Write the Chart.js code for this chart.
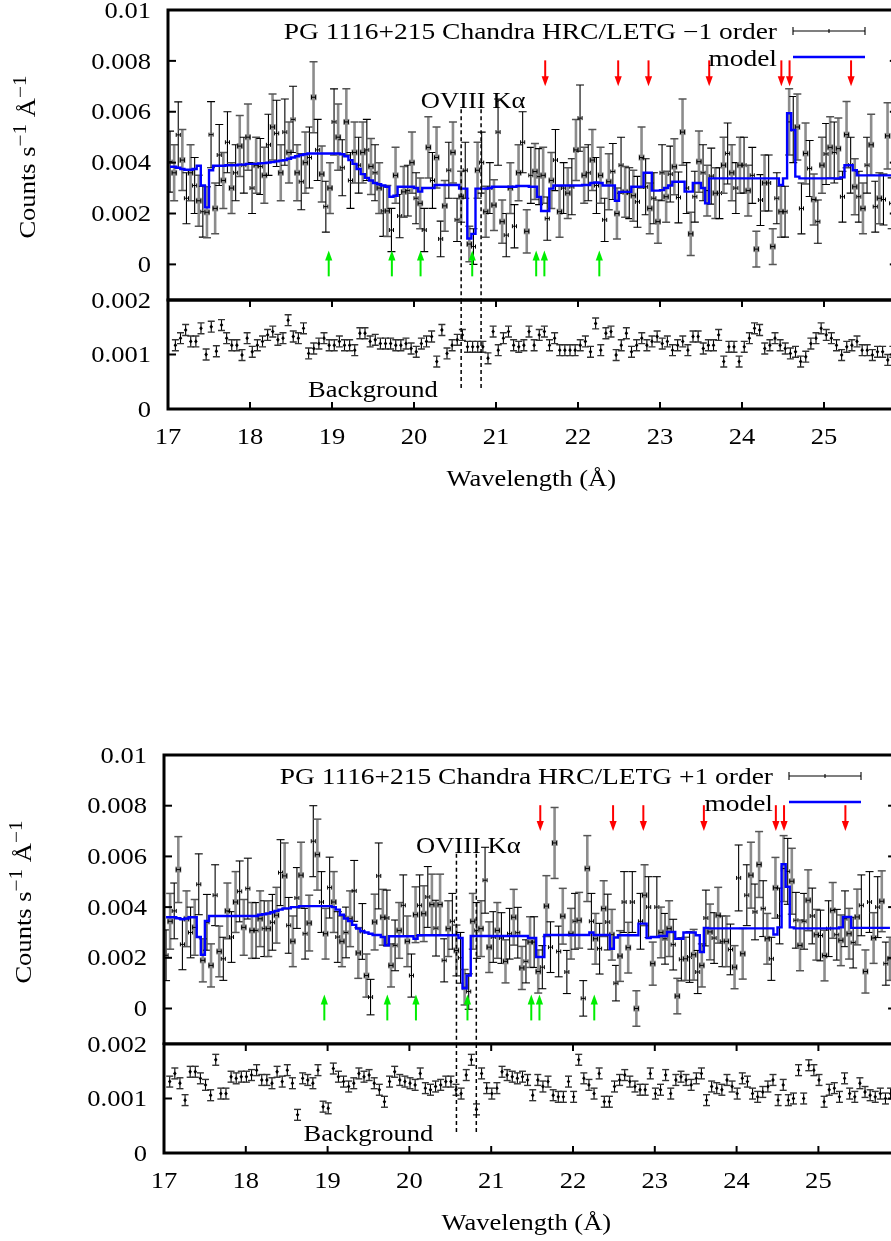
<!DOCTYPE html>
<html>
<head>
<meta charset="utf-8">
<script src="https://cdn.jsdelivr.net/npm/chart.js@4.4.1/dist/chart.umd.min.js"></script>
<style>
html,body{margin:0;padding:0;background:#fff;}
#wrap{position:relative;width:891px;height:1241px;overflow:hidden;background:#fff;}
#wrap canvas{position:absolute;}
</style>
</head>
<body>
<div id="wrap">
<canvas id="c1"></canvas><canvas id="c2"></canvas><canvas id="c3"></canvas><canvas id="c4"></canvas>
</div>
<script>
// ---------- DATA (values in units of 1e-3 counts s^-1 A^-1) ----------
const WL_START = 17.025;      // first source bin centre (Angstrom)
const WL_STEP = 0.05;         // source bin width
const BG_TOP_START = 17.09;   // first background bin centre, -1 order
const BG_BOT_START = 17.07;   // first background bin centre, +1 order
const BG_STEP = 0.0625;       // background bin width
const BG_ERR = 0.1;           // background error (read, roughly constant)

const topVal = [4.04,3.6,5.09,4.1,2.6,3.6,3.1,2.5,2.07,2.05,
5.1,2.2,4.3,3.3,4.8,3.0,3.6,4.65,3.9,5.0,
3.0,3.9,3.85,3.5,4.7,5.4,5.15,3.6,5.2,4.4,
5.7,3.6,3.25,4.0,4.2,6.57,4.5,3.55,2.27,3.0,
5.6,5.0,3.8,5.6,3.3,4.4,3.9,4.4,4.5,3.85,
3.6,3.0,2.1,2.1,1.35,3.5,1.9,2.85,2.9,4.0,
2.6,2.4,1.35,4.6,3.3,4.2,1.0,2.3,3.7,4.4,
1.75,2.66,3.7,0.8,0.7,3.7,4.0,2.07,3.0,2.33,
5.2,1.68,1.15,3.0,1.5,3.6,4.8,1.3,3.5,3.65,
3.45,3.5,1.8,3.3,4.1,2.07,3.0,2.8,3.05,4.5,
5.75,3.5,3.6,4.1,3.1,3.5,1.75,3.25,3.65,2.0,
3.9,2.85,2.8,2.7,2.46,4.2,3.05,2.2,2.6,1.68,
3.6,2.66,3.55,3.84,2.63,5.2,3.0,1.2,2.66,4.04,
3.6,2.9,3.47,2.8,2.8,3.9,4.36,3.6,3.0,3.9,
3.9,2.9,3.5,0.6,2.53,3.2,3.2,0.7,2.6,2.07,
2.07,5.6,5.3,5.4,2.2,4.36,3.77,2.55,1.68,3.9,
4.34,4.6,4.4,4.55,2.66,5.1,3.9,3.05,2.66,2.2,
3.9,4.7,2.27,2.6,2.55,5.05,2.4,3.0];

const topErr = [1.2,1.1,1.3,1.2,1.0,1.1,1.1,1.0,1.0,1.0,
1.3,1.0,1.2,1.1,1.2,1.0,1.1,1.2,1.1,1.3,
1.0,1.1,1.1,1.1,1.2,1.3,1.3,1.1,1.3,1.2,
1.3,1.1,1.1,1.2,1.2,1.4,1.2,1.1,1.0,1.0,
1.3,1.3,1.1,1.3,1.1,1.2,1.1,1.2,1.2,1.1,
1.1,1.0,1.0,1.0,0.85,1.1,0.85,1.0,1.0,1.2,
1.0,1.0,0.85,1.2,1.1,1.2,0.7,1.0,1.1,1.2,
0.85,1.0,1.1,0.7,0.7,1.1,1.2,1.0,1.0,1.0,
1.3,0.85,0.85,1.0,0.85,1.1,1.2,0.85,1.1,1.1,
1.1,1.1,0.85,1.1,1.2,1.0,1.0,1.0,1.1,1.2,
1.3,1.1,1.1,1.2,1.1,1.1,0.85,1.1,1.1,1.0,
1.1,1.0,1.0,1.0,1.0,1.2,1.1,1.0,1.0,0.85,
1.1,1.0,1.1,1.1,1.0,1.3,1.0,0.85,1.0,1.2,
1.1,1.0,1.1,1.0,1.0,1.1,1.2,1.1,1.0,1.1,
1.1,1.0,1.1,0.7,1.0,1.1,1.1,0.7,1.0,1.0,
1.0,1.3,1.3,1.3,1.0,1.2,1.1,1.0,0.85,1.1,
1.2,1.2,1.2,1.2,1.0,1.3,1.1,1.1,1.0,1.0,
1.1,1.2,1.0,1.0,1.0,1.3,1.0,1.0];

const topModel = [3.84,3.84,3.80,3.75,3.72,3.72,3.75,3.88,3.1,2.24,
3.7,3.88,3.88,3.88,3.9,3.9,3.9,3.92,3.92,3.95,
3.95,3.95,3.97,3.98,4.0,4.02,4.05,4.08,4.1,4.15,
4.2,4.25,4.3,4.33,4.36,4.36,4.36,4.36,4.36,4.36,
4.36,4.36,4.33,4.25,4.1,3.95,3.75,3.55,3.4,3.3,
3.2,3.15,3.1,3.05,2.66,2.7,3.05,3.05,3.05,3.05,
3.0,2.86,3.0,3.0,3.0,3.12,3.12,3.12,3.12,3.12,
3.12,2.98,2.98,1.02,1.2,2.98,2.98,2.98,3.0,3.05,
3.05,3.05,3.05,3.05,3.05,3.08,3.08,3.08,3.05,3.05,
2.65,2.1,2.1,2.98,3.1,3.1,3.1,3.1,3.1,3.1,
3.1,3.12,3.12,3.2,3.22,3.2,3.1,3.1,3.1,2.5,
2.85,2.85,2.85,3.05,3.05,3.05,3.6,3.6,2.9,2.9,
2.92,3.0,3.1,3.25,3.25,3.25,2.86,2.86,3.2,3.2,
3.0,2.4,3.38,3.38,3.38,3.38,3.38,3.38,3.38,3.38,
3.38,3.38,3.38,3.38,3.38,3.38,3.38,3.38,3.38,3.12,
3.38,5.94,5.28,3.45,3.38,3.38,3.38,3.38,3.38,3.38,
3.38,3.38,3.38,3.38,3.42,3.9,3.9,3.7,3.5,3.5,
3.5,3.5,3.5,3.5,3.5,3.5,3.5,3.5];

const botVal = [2.1,3.44,3.85,5.48,2.53,3.54,3.0,3.2,4.9,1.9,
3.4,1.7,4.47,2.25,1.96,3.85,2.82,4.2,4.62,3.2,
4.73,3.08,3.08,3.54,3.15,3.15,3.4,3.68,5.36,5.23,
3.28,2.65,4.36,5.26,2.95,3.37,6.6,6.07,4.2,2.95,
4.77,4.2,2.82,2.65,3.0,3.54,4.64,2.19,3.04,1.3,
0.45,3.41,5.23,3.6,3.57,1.7,2.49,3.08,4.07,2.65,
1.3,3.7,4.07,3.74,4.4,4.1,3.17,4.1,1.9,3.15,
3.44,2.29,2.0,0.84,0.67,3.44,3.08,3.15,5.06,2.42,
2.82,3.08,2.78,1.86,2.95,3.6,2.99,1.6,1.86,2.62,
2.62,1.46,1.63,4.04,2.42,6.53,2.25,3.64,1.44,2.95,
3.44,3.48,0.4,5.52,3.44,2.75,2.36,3.94,3.41,2.91,
1.0,2.07,4.2,2.4,4.2,0.0,3.44,4.47,4.0,1.77,
4.0,3.0,2.75,3.15,2.52,0.49,1.94,1.96,2.03,2.12,
1.44,1.7,3.57,3.02,2.78,3.68,2.65,2.65,2.33,1.63,
5.15,2.16,4.47,5.26,3.81,5.68,3.94,2.75,1.96,4.76,
3.65,5.52,5.41,5.02,3.48,2.49,3.44,4.27,3.65,2.91,
2.88,2.09,3.15,3.87,2.91,2.69,3.54,2.95,2.6,3.61,
4.07,1.46,4.2,2.78,4.0,4.23,1.77,1.96];

const botErr = [1.0,1.1,1.1,1.3,1.0,1.1,1.0,1.1,1.2,0.85,
1.1,0.85,1.2,1.0,0.85,1.1,1.0,1.2,1.2,1.1,
1.2,1.1,1.1,1.1,1.1,1.1,1.1,1.1,1.3,1.3,
1.1,1.0,1.2,1.3,1.0,1.1,1.4,1.4,1.2,1.0,
1.2,1.2,1.0,1.0,1.0,1.1,1.2,1.0,1.1,0.85,
0.7,1.1,1.3,1.1,1.1,0.85,1.0,1.1,1.2,1.0,
0.85,1.1,1.2,1.1,1.2,1.2,1.1,1.2,0.85,1.1,
1.1,1.0,1.0,0.7,0.7,1.1,1.1,1.1,1.3,1.0,
1.0,1.1,1.0,0.85,1.0,1.1,1.0,0.85,0.85,1.0,
1.0,0.85,0.85,1.2,1.0,1.4,1.0,1.1,0.85,1.0,
1.1,1.1,0.7,1.3,1.1,1.0,1.0,1.1,1.1,1.0,
0.7,1.0,1.2,1.0,1.2,0.7,1.1,1.2,1.2,0.85,
1.2,1.0,1.0,1.1,1.0,0.7,0.85,0.85,1.0,1.0,
0.85,0.85,1.1,1.1,1.0,1.1,1.0,1.0,1.0,0.85,
1.3,1.0,1.2,1.3,1.1,1.3,1.1,1.0,0.85,1.2,
1.1,1.3,1.3,1.3,1.1,1.0,1.1,1.2,1.1,1.0,
1.0,1.0,1.1,1.1,1.0,1.0,1.1,1.0,1.0,1.1,
1.2,0.85,1.2,1.0,1.2,1.2,0.85,0.85];

const botModel = [3.6,3.6,3.6,3.56,3.52,3.55,3.6,3.6,2.82,2.12,
3.45,3.65,3.65,3.65,3.65,3.65,3.65,3.65,3.65,3.65,
3.65,3.65,3.65,3.7,3.72,3.75,3.8,3.85,3.9,3.95,
3.95,4.0,4.0,4.04,4.04,4.04,4.04,4.04,4.04,4.04,
4.04,4.0,3.9,3.7,3.55,3.45,3.3,3.15,3.05,3.0,
2.95,2.9,2.9,2.82,2.49,2.85,2.85,2.85,2.85,2.85,
2.85,2.75,2.89,2.89,2.89,2.89,2.89,2.89,2.89,2.89,
2.89,2.9,2.78,0.8,1.3,2.86,2.86,2.86,2.86,2.86,
2.86,2.86,2.86,2.86,2.86,2.86,2.86,2.86,2.86,2.78,
2.78,2.03,2.03,2.9,2.9,2.9,2.9,2.9,2.9,2.9,
2.9,2.9,2.9,2.9,3.0,2.9,2.9,2.9,2.9,2.36,
2.8,2.89,2.89,2.89,2.89,2.89,3.35,3.35,2.78,2.82,
2.82,2.86,2.86,3.02,3.02,2.75,2.75,3.0,3.0,3.0,
2.89,2.23,3.18,3.16,3.16,3.16,3.16,3.16,3.16,3.16,
3.16,3.16,3.16,3.16,3.16,3.16,3.16,3.16,3.16,2.92,
3.2,5.69,4.8,3.2,3.16,3.16,3.16,3.16,3.16,3.16,
3.16,3.16,3.16,3.16,3.16,3.2,3.61,3.61,3.18,3.18,
3.18,3.18,3.18,3.18,3.18,3.18,3.18,3.18];

const topBg = [1.17,1.30,1.45,1.24,1.24,1.48,1.0,1.51,1.06,1.54,
1.30,1.17,1.17,0.99,1.30,1.05,1.17,1.24,1.36,1.42,
1.27,1.30,1.63,1.33,1.30,1.48,1.02,1.11,1.2,1.30,
1.17,1.17,1.24,1.17,1.17,1.08,1.39,1.39,1.24,1.27,
1.2,1.2,1.2,1.17,1.17,1.2,1.11,1.05,1.2,1.24,
1.33,0.87,1.45,1.02,1.17,1.27,1.36,1.14,1.14,1.14,
1.14,0.93,1.42,1.08,1.30,1.42,1.17,1.14,1.17,1.42,
1.17,1.36,1.42,1.17,1.30,1.08,1.08,1.08,1.08,1.17,
1.24,1.05,1.57,1.08,1.39,1.42,0.99,1.17,1.39,1.05,
1.17,1.30,1.17,1.24,1.33,1.2,1.24,1.08,1.17,1.24,
1.08,1.33,1.33,1.11,1.17,1.17,1.36,0.87,1.14,1.14,
0.87,1.14,1.30,1.48,1.45,1.11,1.17,1.30,1.17,1.11,
1.02,1.05,0.87,0.96,1.2,1.30,1.48,1.36,1.30,1.17,
0.99,1.14,1.17,1.24,1.08,1.08,0.99,1.05,1.05,0.90,
1.05];

const botBg = [1.31,1.46,1.28,0.97,1.49,1.49,1.37,1.25,1.06,1.71,
1.09,1.09,1.40,1.37,1.40,1.40,1.43,1.52,1.34,1.34,
1.28,1.49,1.31,1.52,1.28,0.70,1.37,1.34,1.28,1.52,
0.85,0.82,1.55,1.40,1.31,1.22,1.28,1.46,1.40,1.43,
1.28,1.16,0.94,1.31,1.49,1.34,1.31,1.28,1.25,1.46,
1.19,1.16,1.22,1.25,1.31,1.31,1.16,1.09,1.43,1.71,
0.80,1.46,1.19,1.09,1.19,1.49,1.43,1.40,1.37,1.40,
1.34,
1.06,1.34,1.22,1.31,1.06,1.03,1.03,1.31,1.03,1.71,
1.37,1.25,1.09,1.46,0.94,0.94,1.22,1.34,1.43,1.31,
1.22,1.16,1.16,1.46,1.09,1.16,1.43,1.09,1.34,1.40,
1.34,1.25,1.37,1.46,0.97,1.22,1.19,1.16,1.34,1.22,
1.09,1.37,1.31,1.09,1.03,1.12,1.22,1.34,0.97,1.25,
0.97,1.00,1.52,1.00,1.61,1.52,1.34,0.94,1.16,1.19,
1.03,1.37,1.09,1.03,1.28,1.12,1.06,1.03,1.09,1.00,
1.09];

const greenArrows = [18.96, 19.73, 20.08, 20.71, 21.49, 21.59, 22.26];
const redArrows = [21.60, 22.49, 22.86, 23.60, 24.48, 24.58, 25.33];
const GREEN_TAIL = -0.47, GREEN_TIP = 0.55, RED_TAIL = 8.02, RED_TIP = 7.0;
const dashedWl = [20.575, 20.818];
const DASH_MAIN_TOP = 6.1, DASH_BG_BOTTOM = 0.35;

const mainTickVals = [0, 2, 4, 6, 8, 10];
const mainTickLabels = ["0", "0.002", "0.004", "0.006", "0.008", "0.01"];
const bgTickVals = [0, 1, 2];
const bgTickLabels = ["0", "0.001", "0.002"];
const xTickVals = [17, 18, 19, 20, 21, 22, 23, 24, 25];
const xTickLabels = ["17", "18", "19", "20", "21", "22", "23", "24", "25"];

const LABEL_OVIII = "OVIII K\u03b1", OVIII_WL = 20.72, OVIII_Y = 6.45;
const LABEL_BG = "Background", BG_LABEL_WL = 19.5, BG_LABEL_Y = 0.36;
const X_TITLE = "Wavelength (\u00c5)", X_TITLE_WL = 21.43;
const LEGEND_TOP = "PG 1116+215 Chandra HRC/LETG \u22121 order";
const LEGEND_BOT = "PG 1116+215 Chandra HRC/LETG +1 order";
const LEGEND_MODEL = "model";

// ---------- RENDERING ----------
const FONT_FAMILY = '"Liberation Serif", "Times New Roman", Times, serif';
const FS = 22.5, SX = 1.18, SX_LEGEND = 1.22;

function drawText(ctx, s, x, y, align, size, sx) {
  ctx.save();
  ctx.font = size + 'px ' + FONT_FAMILY;
  ctx.textAlign = align;
  ctx.textBaseline = 'alphabetic';
  ctx.fillStyle = '#000';
  ctx.translate(x, y + 0.34 * size);
  ctx.scale(sx || SX, 1);
  ctx.fillText(s, 0, 0);
  ctx.restore();
}
function seg(ctx, x1, y1, x2, y2) { ctx.beginPath(); ctx.moveTo(x1, y1); ctx.lineTo(x2, y2); ctx.stroke(); }

function drawArrow(ctx, x, yTail, yTip, color) {
  ctx.save();
  ctx.strokeStyle = color; ctx.fillStyle = color; ctx.lineWidth = 2;
  const dir = yTip > yTail ? 1 : -1;
  const headLen = 10, headW = 3.6;
  seg(ctx, x, yTail, x, yTip - dir * headLen * 0.6);
  ctx.beginPath();
  ctx.moveTo(x, yTip);
  ctx.lineTo(x - headW, yTip - dir * headLen);
  ctx.lineTo(x + headW, yTip - dir * headLen);
  ctx.closePath(); ctx.fill();
  ctx.restore();
}

function drawYTitle(ctx, cx, cy) {
  const main = FS, sup = FS * 0.8;
  const parts = [["Counts s", main, 0], ["\u22121", sup, 0.42], [" \u00c5", main, 0], ["\u22121", sup, 0.42]];
  ctx.save();
  let total = 0;
  parts.forEach(p => { ctx.font = p[1] + 'px ' + FONT_FAMILY; total += ctx.measureText(p[0]).width * SX; });
  ctx.translate(cx, cy);
  ctx.rotate(-Math.PI / 2);
  let pos = -total / 2;
  ctx.fillStyle = '#000';
  ctx.textBaseline = 'alphabetic'; ctx.textAlign = 'left';
  parts.forEach(p => {
    ctx.font = p[1] + 'px ' + FONT_FAMILY;
    const w = ctx.measureText(p[0]).width * SX;
    ctx.save();
    ctx.translate(pos, -p[2] * main);
    ctx.scale(SX, 1);
    ctx.fillText(p[0], 0, 0);
    ctx.restore();
    pos += w;
  });
  ctx.restore();
}

function makePanel(p) {
  const cv = document.getElementById(p.id);
  cv.width = p.w; cv.height = p.h;
  cv.style.left = p.left + 'px'; cv.style.top = p.top + 'px';
  cv.style.width = p.w + 'px'; cv.style.height = p.h + 'px';
  const pad = { left: p.area.l - p.left, top: p.area.t - p.top,
                right: p.w - (p.area.r - p.left), bottom: p.h - (p.area.b - p.top) };
  const isMain = p.kind === 'main';
  const pts = isMain ? p.vals.map((v, k) => ({ x: WL_START + k * WL_STEP, y: v }))
                     : p.vals.map((v, k) => ({ x: p.start + k * BG_STEP, y: v }));
  const datasets = [{ type: 'scatter', data: pts, pointRadius: 0, showLine: false, order: 2 }];
  if (isMain) {
    datasets.push({ type: 'line', data: p.model.map((v, k) => ({ x: WL_START + k * WL_STEP, y: v })),
      stepped: 'middle', borderColor: '#0000ff', borderWidth: 2.4, pointRadius: 0, fill: false, order: 1 });
  }
  const deco = {
    id: 'deco_' + p.id,
    beforeDatasetsDraw(chart) {
      const ctx = chart.ctx, a = chart.chartArea, X = chart.scales.x, Y = chart.scales.y;
      const meta = chart.getDatasetMeta(0);
      ctx.save();
      ctx.beginPath(); ctx.rect(a.left, a.top, a.right - a.left, a.bottom - a.top); ctx.clip();
      meta.data.forEach((el, i) => {
        const d = pts[i];
        const e = isMain ? p.errs[i] : BG_ERR;
        const x = el.x, y = el.y;
        const y1 = Y.getPixelForValue(d.y + e), y2 = Y.getPixelForValue(d.y - e);
        const hw = X.getPixelForValue(d.x + (isMain ? WL_STEP : BG_STEP) / 2) - x;
        if (isMain) {
          if (i % 2 === 1) {
            ctx.strokeStyle = '#8c8c8c'; ctx.lineWidth = 2.6; seg(ctx, x, y1, x, y2);
            ctx.strokeStyle = '#555'; ctx.lineWidth = 1.5;
            seg(ctx, x - 4, y1, x + 4, y1); seg(ctx, x - 4, y2, x + 4, y2);
            ctx.fillStyle = '#8c8c8c'; ctx.fillRect(x - 3, y - 3, 6, 6);
          } else {
            ctx.strokeStyle = '#000'; ctx.lineWidth = 1.1; seg(ctx, x, y1, x, y2);
            seg(ctx, x - 4, y1, x + 4, y1); seg(ctx, x - 4, y2, x + 4, y2);
          }
          ctx.strokeStyle = '#000'; ctx.lineWidth = 1;
          seg(ctx, x - hw, y, x + hw, y); seg(ctx, x - hw, y - 2, x - hw, y + 2); seg(ctx, x + hw, y - 2, x + hw, y + 2);
        } else {
          ctx.strokeStyle = '#000'; ctx.lineWidth = 1.1; seg(ctx, x, y1, x, y2);
          ctx.strokeStyle = '#333'; ctx.lineWidth = 1.4;
          seg(ctx, x - 3.5, y1, x + 3.5, y1); seg(ctx, x - 3.5, y2, x + 3.5, y2);
          ctx.fillStyle = '#000';
          ctx.beginPath(); ctx.moveTo(x, y - 2.2); ctx.lineTo(x + 1.8, y); ctx.lineTo(x, y + 2.2); ctx.lineTo(x - 1.8, y); ctx.closePath(); ctx.fill();
        }
      });
      ctx.restore();
    },
    afterDraw(chart) {
      const ctx = chart.ctx, a = chart.chartArea, X = chart.scales.x, Y = chart.scales.y;
      ctx.save();
      // dashed marker lines
      ctx.strokeStyle = '#000'; ctx.lineWidth = 1.5; ctx.setLineDash([4, 3]);
      dashedWl.forEach(w => {
        const x = X.getPixelForValue(w);
        if (isMain) seg(ctx, x, Y.getPixelForValue(DASH_MAIN_TOP), x, a.bottom);
        else seg(ctx, x, a.top, x, Y.getPixelForValue(DASH_BG_BOTTOM));
      });
      ctx.setLineDash([]);
      if (isMain) {
        greenArrows.forEach(w => drawArrow(ctx, X.getPixelForValue(w), Y.getPixelForValue(GREEN_TAIL), Y.getPixelForValue(GREEN_TIP), '#00ee00'));
        redArrows.forEach(w => drawArrow(ctx, X.getPixelForValue(w), Y.getPixelForValue(RED_TAIL), Y.getPixelForValue(RED_TIP), '#ff0000'));
      }
      // frame
      ctx.strokeStyle = '#000'; ctx.lineWidth = 3;
      ctx.strokeRect(a.left, a.top, a.right - a.left, a.bottom - a.top);
      // y ticks + labels
      ctx.lineWidth = 2;
      const tv = isMain ? mainTickVals : bgTickVals, tl = isMain ? mainTickLabels : bgTickLabels;
      tv.forEach((v, i) => {
        const y = Y.getPixelForValue(v);
        seg(ctx, a.left, y, a.left + 8, y);
        seg(ctx, a.right - 8, y, a.right, y);
        drawText(ctx, tl[i], a.left - 17, y, 'right', FS);
      });
      if (!isMain) {
        xTickVals.forEach((v, i) => {
          const x = X.getPixelForValue(v);
          seg(ctx, x, a.top, x, a.top + 7);
          seg(ctx, x, a.bottom - 7, x, a.bottom);
          drawText(ctx, xTickLabels[i], x, a.bottom + 27.5, 'center', FS);
        });
        drawText(ctx, X_TITLE, X.getPixelForValue(X_TITLE_WL), a.bottom + 69, 'center', FS);
        drawText(ctx, LABEL_BG, X.getPixelForValue(BG_LABEL_WL), Y.getPixelForValue(BG_LABEL_Y), 'center', FS);
      } else {
        drawText(ctx, LABEL_OVIII, X.getPixelForValue(OVIII_WL), Y.getPixelForValue(OVIII_Y), 'center', FS);
        // legend
        const tx = a.left + 609, s1 = a.left + 625, s2 = a.left + 697;
        drawText(ctx, p.legend, tx, a.top + 21, 'right', FS, SX_LEGEND);
        drawText(ctx, LEGEND_MODEL, tx, a.top + 48, 'right', FS, SX_LEGEND);
        ctx.strokeStyle = '#000'; ctx.lineWidth = 1.1;
        const ly = a.top + 21;
        seg(ctx, s1, ly, s2, ly); seg(ctx, s1, ly - 4, s1, ly + 4); seg(ctx, s2, ly - 4, s2, ly + 4);
        seg(ctx, (s1 + s2) / 2, ly - 2, (s1 + s2) / 2, ly + 2);
        ctx.strokeStyle = '#0000ff'; ctx.lineWidth = 2.4;
        seg(ctx, s1, a.top + 47, s2, a.top + 47);
        drawYTitle(ctx, a.left - 133, a.top + 147);
      }
      ctx.restore();
    }
  };
  new Chart(cv, {
    type: 'scatter',
    data: { datasets },
    options: {
      responsive: false, animation: false, devicePixelRatio: 1, events: [],
      layout: { padding: pad },
      plugins: { legend: { display: false }, tooltip: { enabled: false }, title: { display: false } },
      scales: {
        x: { type: 'linear', min: p.xMin, max: p.xMax, display: false },
        y: { type: 'linear', min: p.yMin, max: p.yMax, display: false }
      }
    },
    plugins: [deco]
  });
}

const panels = [
  { id: 'c1', left: 0, top: 0, w: 900, h: 302, area: { l: 168, t: 10, r: 897.8, b: 300 }, kind: 'main',
    xMin: 17, xMax: 25.9, yMin: -1.4, yMax: 10, vals: topVal, errs: topErr, model: topModel, legend: LEGEND_TOP },
  { id: 'c2', left: 0, top: 290, w: 900, h: 210, area: { l: 168, t: 300, r: 897.8, b: 409 }, kind: 'bg',
    xMin: 17, xMax: 25.9, yMin: 0, yMax: 2, vals: topBg, start: BG_TOP_START },
  { id: 'c3', left: 0, top: 745, w: 900, h: 300, area: { l: 164, t: 755, r: 896.1, b: 1044 }, kind: 'main',
    xMin: 17, xMax: 25.95, yMin: -1.4, yMax: 10, vals: botVal, errs: botErr, model: botModel, legend: LEGEND_BOT },
  { id: 'c4', left: 0, top: 1034, w: 900, h: 207, area: { l: 164, t: 1044, r: 896.1, b: 1153 }, kind: 'bg',
    xMin: 17, xMax: 25.95, yMin: 0, yMax: 2, vals: botBg, start: BG_BOT_START }
];
panels.forEach(makePanel);
</script>
</body>
</html>
